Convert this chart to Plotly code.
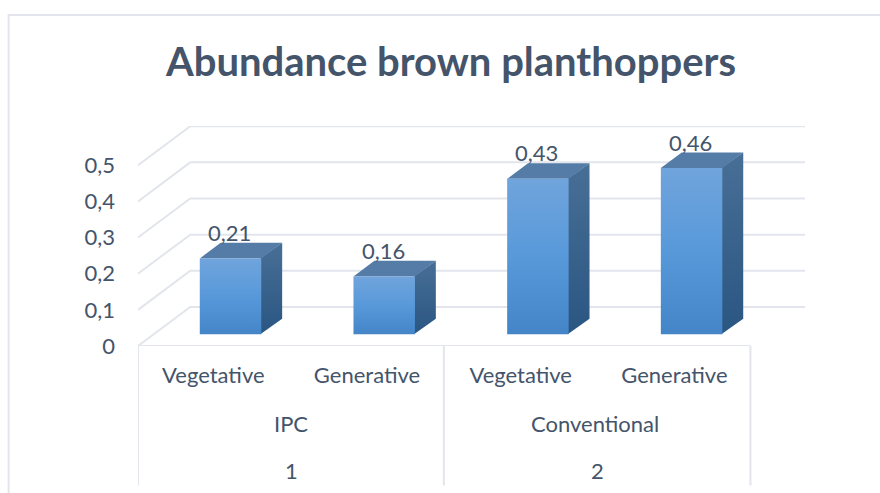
import plotly.graph_objects as go

title = 'Abundance brown planthoppers'
stages = ['Vegetative', 'Generative', 'Vegetative', 'Generative']
systems = ['IPC', 'Conventional']
groups = ['1', '2']
values = [0.21, 0.16, 0.43, 0.46]
value_labels = ['0,21', '0,16', '0,43', '0,46']
y_ticks = [0, 0.1, 0.2, 0.3, 0.4, 0.5]
y_tick_text = ['0', '0,1', '0,2', '0,3', '0,4', '0,5']

text_color = '#44546a'
grid_color = '#e2e6ec'
font_name = 'Lato'
font_size = 22

# fake 3D: how far the back wall sits from the front, in axis units
wall_dx = 0.34
wall_dy = 0.108
# bar sits between these fractions of the depth, and has this width
bar_near = 0.3
bar_far = 0.7
bar_width = 0.4
# faces overlap a little so no white seam shows between them
seam = 0.006

fig = go.Figure()

# side wall and back wall gridlines
for v in y_ticks:
    fig.add_trace(go.Scatter(x=[0, wall_dx, len(stages) + wall_dx],
                             y=[v, v + wall_dy, v + wall_dy],
                             mode='lines', line=dict(color=grid_color, width=2),
                             cliponaxis=False, showlegend=False, hoverinfo='skip'))

# front edge of the floor and the category dividers are drawn as shapes below
for i, v in enumerate(values):
    left = i + 0.5 - bar_width / 2 + wall_dx * bar_near
    right = left + bar_width
    base = wall_dy * bar_near
    top = base + v
    dx = wall_dx * (bar_far - bar_near)
    dy = wall_dy * (bar_far - bar_near)

    # side face
    fig.add_trace(go.Scatter(x=[right - seam, right + dx, right + dx, right - seam, right - seam],
                             y=[base, base + dy, top + dy, top, base],
                             mode='lines', fill='toself', line=dict(width=0),
                             fillgradient=dict(type='vertical',
                                               colorscale=[[0, '#2a5682'], [1, '#486f96']]),
                             showlegend=False, hoverinfo='skip'))
    # top face
    fig.add_trace(go.Scatter(x=[left, left + dx, right + dx, right, left],
                             y=[top, top + dy, top + dy, top, top],
                             mode='lines', fill='toself', line=dict(width=0),
                             fillcolor='#557ca6', showlegend=False, hoverinfo='skip'))
    # front face
    fig.add_trace(go.Scatter(x=[left, right, right, left, left],
                             y=[base, base, top, top, base],
                             mode='lines', fill='toself', line=dict(width=0),
                             fillgradient=dict(type='vertical',
                                               colorscale=[[0, '#4485c8'], [0.5, '#5899da'], [1, '#70a4dc']]),
                             showlegend=False, hoverinfo='skip'))
    # value label
    fig.add_annotation(x=(left + right) / 2, y=top, yshift=26, xshift=-1, text=value_labels[i],
                       showarrow=False, yanchor='middle', xanchor='center',
                       font=dict(family=font_name, size=font_size, color=text_color))

# second and third level of the category axis
for i, name in enumerate(systems):
    fig.add_annotation(x=2 * i + 1, y=0, yref='paper', yshift=-77, xshift=-1 - 3 * i, text=name, showarrow=False,
                       yanchor='middle', font=dict(family=font_name, size=font_size, color=text_color))
    fig.add_annotation(x=2 * i + 1, y=0, yref='paper', yshift=-124, xshift=-2 * i, text=groups[i], showarrow=False,
                       yanchor='middle', font=dict(family=font_name, size=font_size, color=text_color))

fig.add_shape(type='line', x0=0, x1=3.985, y0=0, y1=0, line=dict(color=grid_color, width=2))
for x in [0, 1.99, 3.985]:
    fig.add_shape(type='line', x0=x, x1=x, yref='paper', y0=0, y1=-0.634,
                  line=dict(color=grid_color, width=2))

# chart frame, runs off the right and bottom of the picture
fig.add_shape(type='rect', xref='paper', yref='paper', x0=-0.194, x1=1.2, y0=-0.9, y1=1.505,
              line=dict(color=grid_color, width=2))

fig.update_layout(
    width=880, height=493,
    margin=dict(l=138, r=75, t=126, b=147.3),
    paper_bgcolor='white', plot_bgcolor='white',
    title=dict(text='<b>' + title + '</b>', x=0.5125, xanchor='center', y=0.875, yanchor='middle',
               font=dict(family=font_name, size=40, color=text_color)),
    xaxis=dict(range=[0, len(stages) + wall_dx], tickmode='array',
               tickvals=[i + 0.49 for i in range(len(stages))], ticktext=stages,
               showgrid=False, zeroline=False, showline=False, ticks='',
               ticklabelstandoff=14, tickfont=dict(family=font_name, size=font_size, color=text_color)),
    yaxis=dict(range=[0, 0.6086], tickmode='array', tickvals=y_ticks, ticktext=y_tick_text,
               showgrid=False, zeroline=False, showline=False, ticks='',
               ticklabelstandoff=22, tickfont=dict(family=font_name, size=font_size, color=text_color)),
)

fig.write_html("out.html", config=dict(displayModeBar=False), post_script="document.body.style.margin='0';")
